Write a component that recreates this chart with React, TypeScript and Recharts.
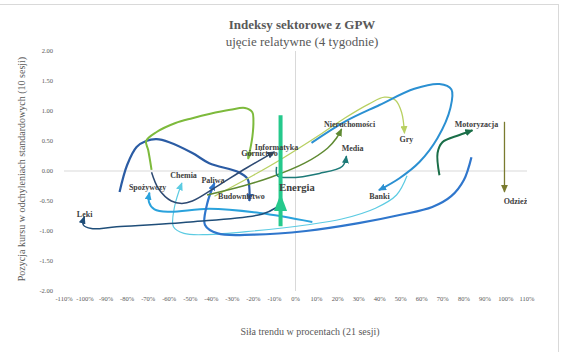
import React from 'react';
import { ComposedChart, Line, Scatter, XAxis, YAxis, ReferenceLine } from 'recharts';

// ---------- data ----------
const xTicks = [-110, -100, -90, -80, -70, -60, -50, -40, -30, -20, -10, 0, 10, 20, 30, 40, 50, 60, 70, 80, 90, 100, 110];
const yTicks = [-2, -1.5, -1, -0.5, 0, 0.5, 1, 1.5, 2];

// [trend %, position in std deviations]
const energia = [[-7.1, 0.93], [-7.1, -0.92], [-7.1, -0.41]];
const leki = [[-8.6, -0.6], [-16, -0.72], [-50, -0.85], [-85, -0.93], [-97, -0.96], [-100.8, -0.9], [-100.3, -0.76]];
const spozywczy = [[8, -0.85], [-17, -0.7], [-41, -0.63], [-60, -0.68], [-67, -0.64], [-69.6, -0.52], [-69.4, -0.36]];
const chemia = [[53, -0.08], [48, -0.4], [38, -0.62], [22, -0.8], [5, -0.9], [-20, -1.0], [-42, -1.06], [-53, -1.04], [-58, -0.93], [-57.5, -0.6], [-54, -0.2]];
const paliwa = [[83.6, 0.23], [80, -0.15], [74, -0.42], [65, -0.6], [50, -0.73], [30, -0.87], [5, -1.0], [-20, -1.06], [-37, -1.04], [-43, -0.9], [-42, -0.55], [-38.5, -0.2]];
const budownictwo = [[-83.6, -0.35], [-80, 0.1], [-75.5, 0.4], [-71, 0.5], [-66, 0.53], [-60, 0.48], [-49, 0.3], [-41, 0.13], [-27, -0.02], [-22.8, -0.13], [-21.9, -0.3], [-21.9, -0.5]];
const gornictwo = [[-68.4, 0.02], [-70, 0.35], [-71, 0.5], [-66, 0.65], [-57, 0.8], [-49, 0.88], [-41, 0.95], [-31, 1.02], [-24, 1.05], [-20.5, 0.98], [-20, 0.85], [-20.5, 0.57], [-22.5, 0.2]];
const informatyka = [[-68.4, -0.02], [-65, -0.3], [-59, -0.5], [-54, -0.54], [-49, -0.5], [-37.5, -0.26], [-23.3, 0.05], [-10, 0.32]];
const nieruchomosci = [[-42, -0.4], [-25, -0.25], [-11.4, -0.1], [4.3, 0.13], [15.2, 0.38], [19.5, 0.55], [21.9, 0.7]];
const gry = [[-38.5, -0.42], [-20, -0.07], [-7.6, 0.18], [11.4, 0.6], [23.3, 0.88], [35, 1.12], [42.3, 1.23], [47.5, 1.18], [50.4, 0.98], [51.8, 0.63]];
const banki = [[7.6, 0.47], [23.3, 0.82], [39.9, 1.1], [56.5, 1.37], [68.4, 1.45], [74.1, 1.36], [73.6, 1.05], [67.5, 0.55], [58.9, 0.15], [49.4, -0.12], [39.6, -0.32]];
const motoryzacja = [[68.4, -0.07], [67.5, 0.3], [69.8, 0.48], [77.9, 0.6], [84.1, 0.68]];
const media = [[-9, 0.07], [-8.6, -0.08], [-2.9, -0.11], [11.4, -0.04], [22.3, 0.08], [24.2, 0.25]];
const odziez = [[99.3, 0.82], [99.3, -0.35]];

const labelNames = ['Leki', 'Spożywczy', 'Chemia', 'Paliwa', 'Budownictwo', 'Informatyka', 'Górnictwo', 'Energia', 'Nieruchomości', 'Media', 'Gry', 'Banki', 'Motoryzacja', 'Odzież'];
const labelX = [-100.2, -70.3, -53.2, -39.2, -25.7, -9.0, -17.1, 0.7, 25.7, 27.1, 52.7, 39.9, 86.0, 104.5];
const labelY = [-0.72, -0.28, -0.07, -0.15, -0.43, 0.4, 0.3, -0.28, 0.77, 0.37, 0.52, -0.42, 0.78, -0.5];

// ---------- styles ----------
const seriesList = [
  { id: 'chemia', pts: chemia, color: '#5ccbe2', w: 1.2, aw: 7, al: 8 },
  { id: 'spozywczy', pts: spozywczy, color: '#2aa2dc', w: 2, aw: 7, al: 8 },
  { id: 'paliwa', pts: paliwa, color: '#2f76cc', w: 2.2, aw: 7, al: 8 },
  { id: 'leki', pts: leki, color: '#1f4e79', w: 1.5, aw: 7, al: 8 },
  { id: 'budownictwo', pts: budownictwo, color: '#2b5ca4', w: 2.2, aw: 7, al: 8 },
  { id: 'gornictwo', pts: gornictwo, color: '#7dba3c', w: 2, aw: 7, al: 8 },
  { id: 'informatyka', pts: informatyka, color: '#2e4a73', w: 1.5, aw: 7, al: 8 },
  { id: 'gry', pts: gry, color: '#b8d062', w: 1.3, aw: 7, al: 8 },
  { id: 'nieruchomosci', pts: nieruchomosci, color: '#5f8a32', w: 1.5, aw: 7, al: 8 },
  { id: 'media', pts: media, color: '#1d7a78', w: 1.5, aw: 7, al: 8 },
  { id: 'banki', pts: banki, color: '#2b90d2', w: 2, aw: 7, al: 8 },
  { id: 'motoryzacja', pts: motoryzacja, color: '#1a6e48', w: 2, aw: 7, al: 8 },
  { id: 'odziez', pts: odziez, color: '#7a7b2f', w: 1.3, aw: 7, al: 8 },
  { id: 'energia', pts: energia, color: '#25c98c', w: 4, aw: 13, al: 17, linear: true },
];

const serif = '"Liberation Serif", "DejaVu Serif", serif';

// centripetal Catmull-Rom curve factory (for d3-style line generator used by recharts)
const catmullRom = (context: any) => {
  let pts: number[][] = [];
  return {
    areaStart() {},
    areaEnd() {},
    lineStart() { pts = []; },
    point(x: number, y: number) { pts.push([+x, +y]); },
    lineEnd() {
      const n = pts.length;
      if (!n) return;
      context.moveTo(pts[0][0], pts[0][1]);
      for (let i = 0; i < n - 1; i++) {
        const p0 = i > 0 ? pts[i - 1] : null;
        const p1 = pts[i];
        const p2 = pts[i + 1];
        const p3 = i + 2 < n ? pts[i + 2] : null;
        const l12 = Math.sqrt(Math.hypot(p2[0] - p1[0], p2[1] - p1[1]));
        let c1 = p1;
        let c2 = p2;
        if (p0) {
          const l01 = Math.sqrt(Math.hypot(p1[0] - p0[0], p1[1] - p0[1]));
          if (l01 > 1e-6) {
            const a = 2 * l01 * l01 + 3 * l01 * l12 + l12 * l12;
            const nn = 3 * l01 * (l01 + l12);
            c1 = [
              (p1[0] * a - p0[0] * l12 * l12 + p2[0] * l01 * l01) / nn,
              (p1[1] * a - p0[1] * l12 * l12 + p2[1] * l01 * l01) / nn,
            ];
          }
        }
        if (p3) {
          const l23 = Math.sqrt(Math.hypot(p3[0] - p2[0], p3[1] - p2[1]));
          if (l23 > 1e-6) {
            const b = 2 * l23 * l23 + 3 * l23 * l12 + l12 * l12;
            const m = 3 * l23 * (l23 + l12);
            c2 = [
              (p2[0] * b + p1[0] * l23 * l23 - p3[0] * l12 * l12) / m,
              (p2[1] * b + p1[1] * l23 * l23 - p3[1] * l12 * l12) / m,
            ];
          }
        }
        context.bezierCurveTo(c1[0], c1[1], c2[0], c2[1], p2[0], p2[1]);
      }
    },
  };
};

const labelData = labelNames.map((name, i) => ({ name, x: labelX[i], y: labelY[i] }));

const renderLabel = (p: any) => {
  const big = p.payload.name === 'Energia';
  return (
    <text
      x={p.cx}
      y={p.cy}
      textAnchor="middle"
      dominantBaseline="central"
      fontFamily={serif}
      fontWeight="bold"
      fontSize={big ? 10.5 : 8}
      fill="#404040"
    >
      {p.payload.name}
    </text>
  );
};

export default function App() {
  const tickStyle = { fontSize: 6.5, fill: '#595959', fontFamily: serif };
  return (
    <div style={{ position: 'absolute', left: 0, top: 0, width: 564, height: 352, background: '#fff', overflow: 'hidden' }}>
      <svg width={0} height={0} style={{ position: 'absolute' }}>
        <defs>
          {seriesList.map((s) => (
            <marker
              key={s.id}
              id={`arr-${s.id}`}
              viewBox="0 0 10 10"
              refX={9}
              refY={5}
              markerWidth={s.al}
              markerHeight={s.aw}
              markerUnits="userSpaceOnUse"
              preserveAspectRatio="none"
              orient="auto"
            >
              <path d="M0,0 L10,5 L0,10 Z" fill={s.color} />
            </marker>
          ))}
        </defs>
      </svg>
      <div style={{ position: 'absolute', left: -2, top: 4, width: 561, height: 400, border: '1px solid #d9d9d9', boxSizing: 'border-box' }} />
      <div style={{ position: 'absolute', left: 0, top: 0 }}>
        <ComposedChart width={564} height={352} margin={{ top: 51, right: 37, bottom: 41, left: 4 }}>
          <XAxis
            type="number"
            dataKey="x"
            domain={[-110, 110]}
            ticks={xTicks}
            interval={0}
            allowDataOverflow
            tickFormatter={(v: number) => `${v}%`}
            axisLine={false}
            tickLine={false}
            tickSize={3}
            tickMargin={2.5}
            height={20}
            tick={tickStyle}
          />
          <YAxis
            type="number"
            dataKey="y"
            domain={[-2, 2]}
            ticks={yTicks}
            interval={0}
            allowDataOverflow
            tickFormatter={(v: number) => v.toFixed(2)}
            axisLine={false}
            tickLine={false}
            tickSize={6}
            tickMargin={5}
            width={60}
            tick={tickStyle}
          />
          <ReferenceLine x={0} stroke="#d9d9d9" strokeWidth={1} />
          <ReferenceLine y={0} stroke="#d9d9d9" strokeWidth={1} />
          {seriesList.map((s) => (
            <Line
              key={s.id}
              data={s.pts.map(([x, y]) => ({ x, y }))}
              dataKey="y"
              type={s.linear ? 'linear' : (catmullRom as any)}
              stroke={s.color}
              strokeWidth={s.w}
              dot={false}
              activeDot={false}
              isAnimationActive={false}
              markerEnd={`url(#arr-${s.id})`}
              legendType="none"
            />
          ))}
          <Scatter data={labelData} dataKey="y" shape={renderLabel} isAnimationActive={false} />
        </ComposedChart>
      </div>
      <div style={{ position: 'absolute', left: 152, top: 17, width: 300, lineHeight: '16px', textAlign: 'center', fontFamily: serif, fontWeight: 'bold', fontSize: 13, color: '#595959' }}>
        Indeksy sektorowe z GPW
      </div>
      <div style={{ position: 'absolute', left: 152, top: 34, width: 300, lineHeight: '16px', textAlign: 'center', fontFamily: serif, fontSize: 13, color: '#595959' }}>
        ujęcie relatywne (4 tygodnie)
      </div>
      <div style={{ position: 'absolute', left: -128, top: 161, width: 300, height: 16, lineHeight: '16px', textAlign: 'center', fontFamily: serif, fontSize: 10, color: '#595959', transform: 'rotate(-90deg)', whiteSpace: 'nowrap' }}>
        Pozycja kursu w odchyleniach standardowych (10 sesji)
      </div>
      <div style={{ position: 'absolute', left: 160, top: 324, width: 300, lineHeight: '16px', textAlign: 'center', fontFamily: serif, fontSize: 10, color: '#595959', whiteSpace: 'nowrap' }}>
        Siła trendu w procentach (21 sesji)
      </div>
    </div>
  );
}
